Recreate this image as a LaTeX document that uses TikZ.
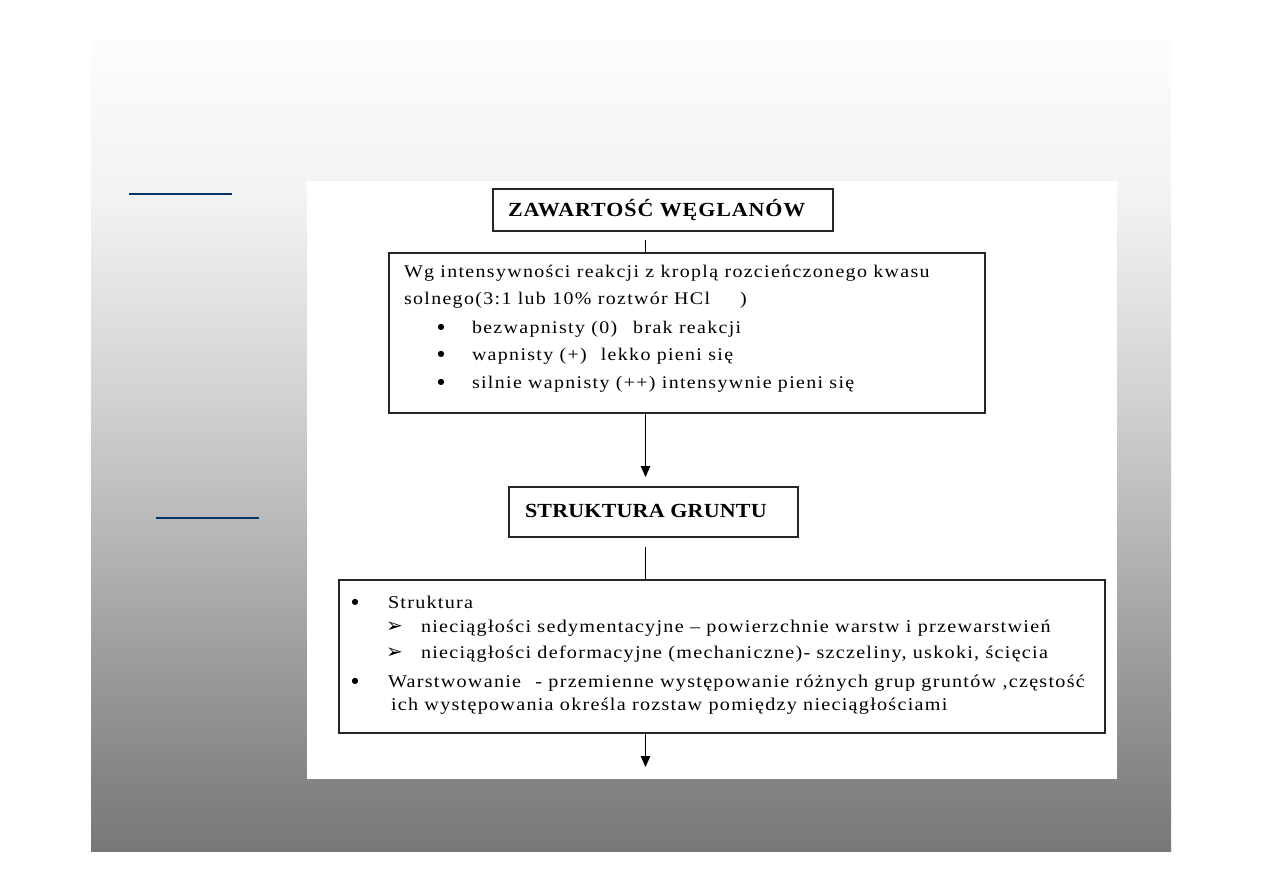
\documentclass[tikz,border=0pt]{standalone}
\usepackage{fontspec}
\setmainfont{Liberation Serif}
\newfontfamily\bodyA[FakeStretch=1.12,LetterSpace=7.5]{Liberation Serif}
\newfontfamily\bodyB[FakeStretch=1.12,LetterSpace=7]{Liberation Serif}
\newfontfamily\headA[FakeStretch=1.1,LetterSpace=4.5]{Liberation Serif}
\newfontfamily\headB[FakeStretch=1.1,LetterSpace=1]{Liberation Serif}
\newfontfamily\dingfont{DejaVu Sans}
\usetikzlibrary{arrows.meta}
\pgfdeclareverticalshading{panelshade}{100bp}{rgb(0bp)=(0.47,0.47,0.47); rgb(25bp)=(0.47,0.47,0.47); rgb(29.4bp)=(0.52,0.52,0.52); rgb(37.4bp)=(0.62,0.62,0.62); rgb(45.6bp)=(0.73,0.73,0.73); rgb(52.8bp)=(0.82,0.82,0.82); rgb(65.2bp)=(0.95,0.95,0.95); rgb(75bp)=(0.99,0.99,0.99); rgb(100bp)=(0.99,0.99,0.99)}
\definecolor{slideblue}{RGB}{0,51,102}
\begin{document}
\begin{tikzpicture}[x=1pt,y=-1pt,
  box/.style={draw=black!85,line width=1.3pt,fill=white,inner sep=0pt,outer sep=0pt},
  conn/.style={draw=black,line width=1pt},
  tip/.style={-{Triangle[length=11pt,width=9.5pt]}},
  txtA/.style={anchor=base west,inner sep=0pt,outer sep=0pt,font=\bodyA\fontsize{17.8pt}{20pt}\selectfont},
  txtB/.style={anchor=base west,inner sep=0pt,outer sep=0pt,font=\bodyB\fontsize{18pt}{20pt}\selectfont},
  headtxtA/.style={anchor=base west,inner sep=0pt,outer sep=0pt,font=\headA\bfseries\fontsize{20pt}{22pt}\selectfont},
  headtxtB/.style={anchor=base west,inner sep=0pt,outer sep=0pt,font=\headB\bfseries\fontsize{20pt}{22pt}\selectfont},
  bullet/.style={anchor=center,inner sep=0pt,outer sep=0pt,font=\dingfont\fontsize{8pt}{10pt}\selectfont},
  dingtxt/.style={anchor=center,inner sep=0pt,outer sep=0pt,font=\dingfont\fontsize{20pt}{22pt}\selectfont},
  bluebar/.style={draw=slideblue,line width=2pt}]
\useasboundingbox (0,0) rectangle (1263,893);
\fill[white] (0,0) rectangle (1263,893);
\shade[shading=panelshade] (91,41) rectangle (1171,851);
\fill[white] (307,181) rectangle (1117,779);
\draw[bluebar] (129,194) -- (232,194);
\draw[bluebar] (156,517.5) -- (259,517.5);

% boxes
\node[box,minimum width=340pt,minimum height=42pt] (b1) at (663,210) {};
\node[box,minimum width=596pt,minimum height=160pt] (b2) at (687,333) {};
\node[box,minimum width=289pt,minimum height=50pt] (b3) at (653.5,512) {};
\node[box,minimum width=766pt,minimum height=153pt] (b4) at (722,656.5) {};

% connectors
\coordinate (axis) at (645.5,0);
\coordinate (endc) at (645.5,767);
\draw[conn] ([yshift=-9pt]axis |- b1.south) -- (axis |- b2.north);
\draw[conn,tip] (axis |- b2.south) -- ([yshift=10pt]axis |- b3.north);
\draw[conn] ([yshift=-10pt]axis |- b3.south) -- (axis |- b4.north);
\draw[conn,tip] (axis |- b4.south) -- (endc);

% headings
\node[headtxtA] (h1) at (508,217) {ZAWARTOŚĆ WĘGLANÓW};
\node[headtxtB] (h3) at (525,517) {STRUKTURA GRUNTU};

% box 2 text
\node[txtA] (t21) at (404,277) {Wg intensywności reakcji z kroplą rozcieńczonego kwasu};
\node[txtA] (t22) at (404,304) {solnego(3:1 lub 10\% roztwór HCl\hspace{30pt})};
\node[bullet] (d23) at (441,327.5) {●};
\node[txtA] (t23) at (472,333) {bezwapnisty (0)\hspace{16pt}brak reakcji};
\node[bullet] (d24) at (441,354.5) {●};
\node[txtA] (t24) at (472,360) {wapnisty (+)\hspace{14pt}lekko pieni się};
\node[bullet] (d25) at (441,382.5) {●};
\node[txtA] (t25) at (472,388) {silnie wapnisty (++) intensywnie pieni się};

% box 4 text
\node[bullet] (d41) at (355,602.5) {●};
\node[txtB] (t41) at (388,608) {Struktura};
\node[dingtxt] (a42) at (394.5,627) {➢};
\node[txtB] (t42) at (421,632) {nieciągłości sedymentacyjne – powierzchnie warstw i przewarstwień};
\node[dingtxt] (a43) at (394.5,653) {➢};
\node[txtB] (t43) at (421,658) {nieciągłości deformacyjne (mechaniczne)- szczeliny, uskoki, ścięcia};
\node[bullet] (d44) at (355,681.5) {●};
\node[txtB] (t44) at (388,687) {Warstwowanie\hspace{8pt} - przemienne występowanie różnych grup gruntów ,częstość};
\node[txtB] (t45) at (391,710) {ich występowania określa rozstaw pomiędzy nieciągłościami};
\end{tikzpicture}
\end{document}
